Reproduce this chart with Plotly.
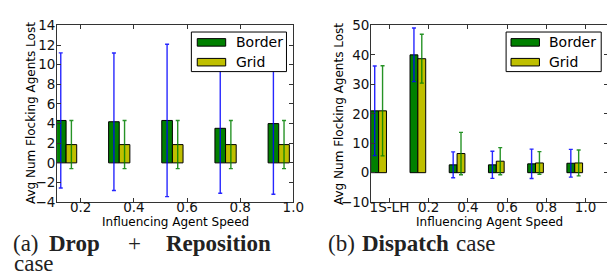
import plotly.graph_objects as go

# ---------------- data ----------------
# (a) Drop + Reposition
pos_a = [0.1, 0.3, 0.5, 0.7, 0.9]
border_a = [4.32, 4.19, 4.32, 3.52, 4.0]
border_a_err = [6.88, 7.0, 7.76, 6.62, 7.2]
grid_a = [1.86, 1.86, 1.86, 1.86, 1.86]
grid_a_err = [2.45, 2.45, 2.45, 2.45, 2.45]
ticks_a = [0.2, 0.4, 0.6, 0.8, 1.0]
ticktext_a = ["0.2", "0.4", "0.6", "0.8", "1.0"]
yticks_a = [-4, -2, 0, 2, 4, 6, 8, 10, 12, 14]

# (b) Dispatch
pos_b = [-0.1, 0.1, 0.3, 0.5, 0.7, 0.9]
border_b = [21.0, 40.0, 2.66, 2.66, 3.0, 3.2]
border_b_err = [15.2, 9.1, 4.4, 4.6, 5.0, 4.7]
grid_b = [21.0, 38.7, 6.5, 3.9, 3.3, 3.3]
grid_b_err = [15.3, 8.3, 7.2, 4.6, 3.85, 4.4]
ticks_b = [0.0, 0.2, 0.4, 0.6, 0.8, 1.0]
ticktext_b = ["1S-LH", "0.2", "0.4", "0.6", "0.8", "1.0"]
yticks_b = [-10, 0, 10, 20, 30, 40, 50]

series_names = ["Border", "Grid"]
series_colors = ["#008000", "#bfbf00"]
err_colors = ["rgba(0,0,255,0.85)", "rgba(0,128,0,0.85)"]

W, H = 615, 278
BAR_W = 0.04
OFFS = [0.025, 0.065]

def px(x):
    return x / W

def py(y):
    return 1 - y / H

fig = go.Figure()

def add_group(pos, vals_list, errs_list, xa, ya):
    for i, (vals, errs) in enumerate(zip(vals_list, errs_list)):
        fig.add_trace(go.Bar(
            x=[p + OFFS[i] for p in pos], y=vals, width=BAR_W,
            marker=dict(color=series_colors[i], line=dict(color="black", width=1)),
            error_y=dict(type="data", array=errs, visible=True,
                         color=err_colors[i], thickness=1.4, width=2),
            name=series_names[i], showlegend=False,
            xaxis=xa, yaxis=ya,
        ))

add_group(pos_a, [border_a, grid_a], [border_a_err, grid_a_err], "x", "y")
add_group(pos_b, [border_b, grid_b], [border_b_err, grid_b_err], "x2", "y2")

tickfont = dict(family="DejaVu Sans", size=13.5, color="#111")
axis_common = dict(showline=True, linecolor="#333", linewidth=1, mirror="ticks",
                   ticks="inside", ticklen=4, tickcolor="#333",
                   showgrid=False, zeroline=False, tickfont=tickfont)

yb, yt = py(197.5), py(10)

fig.update_layout(
    width=W, height=H,
    margin=dict(l=0, r=0, t=0, b=0, pad=0),
    paper_bgcolor="white", plot_bgcolor="white",
    barmode="overlay",
    showlegend=False,
    xaxis=dict(domain=[px(49), px(290)], range=[0.111, 1.0], ticklabelstandoff=-7,
               tickvals=ticks_a, ticktext=ticktext_a, anchor="y", **axis_common),
    yaxis=dict(domain=[yb, yt], range=[-4, 14], tickvals=yticks_a, ticklabelstandoff=-2,
               anchor="x", **axis_common),
    xaxis2=dict(domain=[px(369.3), px(610.7)], range=[-0.0935, 1.1135], ticklabelstandoff=-7,
                tickvals=ticks_b, ticktext=ticktext_b, anchor="y2", **axis_common),
    yaxis2=dict(domain=[yb, yt], range=[-10, 50], tickvals=yticks_b, ticklabelstandoff=-2,
                anchor="x2", **axis_common),
)

shapes = []
annotations = []

# manual legends (wide flat swatches like the reference)
def legend(x0, x1, y0, y1, sx0, sx1, tx):
    shapes.append(dict(type="rect", xref="paper", yref="paper",
                       x0=px(x0), x1=px(x1), y0=py(y1), y1=py(y0),
                       line=dict(color="black", width=1), fillcolor="white"))
    for i, (name, col) in enumerate(zip(series_names, series_colors)):
        cy = 28 + 21 * i
        shapes.append(dict(type="rect", xref="paper", yref="paper",
                           x0=px(sx0), x1=px(sx1), y0=py(cy + 4), y1=py(cy - 4),
                           line=dict(color="black", width=1), fillcolor=col))
        annotations.append(dict(text=name, xref="paper", yref="paper",
                                x=px(tx), y=py(cy), xanchor="left", yanchor="middle",
                                showarrow=False,
                                font=dict(family="DejaVu Sans", size=14, color="black")))

legend(186, 283, 17, 59, 192, 221, 229)
legend(507, 604, 17, 59, 512, 541, 549)

# axis titles
title_font = dict(family="DejaVu Sans", size=12, color="black")
for cx in (170, 490):
    annotations.append(dict(text="Influencing Agent Speed", xref="paper", yref="paper",
                            x=px(cx), y=py(219), xanchor="center", yanchor="middle",
                            showarrow=False, font=title_font))
for cx in (22, 336):
    annotations.append(dict(text="Avg Num Flocking Agents Lost", xref="paper", yref="paper",
                            x=px(cx), y=py(103.5), xanchor="center", yanchor="middle",
                            textangle=-90, showarrow=False, font=title_font))

# captions
cap_font = dict(family="Liberation Serif", size=23, color="#222")
def cap(text, x, y, anchor="center"):
    annotations.append(dict(text=text, xref="paper", yref="paper",
                            x=px(x), y=py(y), xanchor=anchor, yanchor="middle",
                            showarrow=False, font=cap_font))

cap("(a)", 17.5, 241.5)
cap("<b>Drop</b>", 66.5, 241.5)
cap("+", 127.5, 241.5)
cap("<b>Reposition</b>", 213.5, 241.5)
cap("case", 26, 262.5)
cap("(b)", 339, 241.5)
cap("<b>Dispatch</b>", 404, 241.5)
cap("case", 476.5, 241.5)

fig.update_layout(shapes=shapes, annotations=annotations)

fig.write_html("out.html")
